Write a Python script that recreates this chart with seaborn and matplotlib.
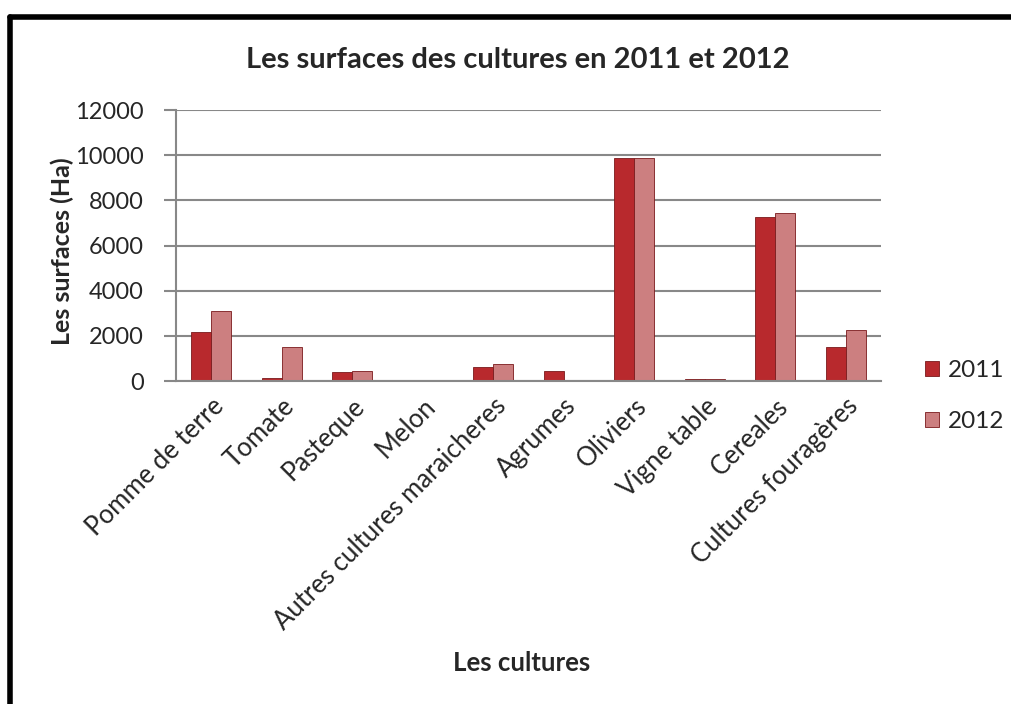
import matplotlib
matplotlib.use("Agg")
import matplotlib.pyplot as plt
from matplotlib.lines import Line2D
import seaborn as sns
import pandas as pd

categories = ["Pomme de terre", "Tomate", "Pasteque", "Melon",
              "Autres cultures maraicheres", "Agrumes", "Oliviers",
              "Vigne table", "Cereales", "Cultures fouragères"]
values_2011 = [2180, 140, 400, 40, 620, 450, 9880, 100, 7250, 1520]
values_2012 = [3100, 1500, 440, 30, 750, 0, 9880, 80, 7420, 2250]
years = ["2011", "2012"]
yticks = [0, 2000, 4000, 6000, 8000, 10000, 12000]

df = pd.DataFrame({
    "culture": categories * 2,
    "surface": values_2011 + values_2012,
    "annee": [years[0]] * len(categories) + [years[1]] * len(categories),
})

sns.set_style("white")
plt.rcParams["font.family"] = ["Lato", "DejaVu Sans"]

fig = plt.figure(figsize=(10.11, 7.04), dpi=100)
ax = fig.add_axes([0.1741, 0.4588, 0.6973, 0.3849])

palette = {"2011": "#B8292D", "2012": "#CC7F80"}
sns.barplot(data=df, x="culture", y="surface", hue="annee", order=categories,
            hue_order=years, palette=palette, width=0.57, gap=0, ax=ax,
            saturation=1, edgecolor="#7a1a1c", linewidth=0.6, legend=False)

ax.set_ylim(0, 12000)
ax.set_yticks(yticks)
ax.set_yticklabels([str(v) for v in yticks], fontsize=17)
ax.set_xticks(range(len(categories)))
ax.set_xticklabels(categories, rotation=45, ha="right", rotation_mode="anchor",
                   fontsize=18.5)
ax.tick_params(axis="x", length=0, pad=9)
ax.tick_params(axis="y", length=9, width=1.5, color="#888888", pad=14, left=True)
ax.yaxis.grid(True, color="#888888", linewidth=1.5)
ax.set_axisbelow(True)
for s in ["top", "right"]:
    ax.spines[s].set_visible(False)
for s in ["left", "bottom"]:
    ax.spines[s].set_color("#888888")
    ax.spines[s].set_linewidth(1.5)

ax.set_xlabel("Les cultures", fontsize=18.5, fontweight="bold")
ax.xaxis.set_label_coords(0.49, -1.04)
ax.xaxis.label.set_va("center")
ax.set_ylabel("Les surfaces (Ha)", fontsize=18, fontweight="bold")
ax.yaxis.set_label_coords(-0.162, 0.48)
ax.yaxis.label.set_va("center")

fig.text(0.512, 1 - 60 / 704, "Les surfaces des cultures en 2011 et 2012",
         ha="center", va="center", fontsize=21, fontweight="bold")

handles = [plt.Rectangle((0, 0), 1, 1, facecolor=palette[y], edgecolor="#7a1a1c",
                         linewidth=0.6) for y in years]
fig.legend(handles, years, loc="center left", bbox_to_anchor=(0.893, 1 - 396 / 704),
           frameon=False, fontsize=17.5, handlelength=0.6, handleheight=0.6,
           handletextpad=0.35, labelspacing=1.25)

# outer frame (top and left visible)
fig.add_artist(Line2D([10 / 1011, 1.0], [1 - 16.5 / 704, 1 - 16.5 / 704],
                      color="black", linewidth=4, transform=fig.transFigure))
fig.add_artist(Line2D([10 / 1011, 10 / 1011], [0.0, 1 - 16.5 / 704],
                      color="black", linewidth=4, transform=fig.transFigure))

fig.savefig("out.png", dpi=100, facecolor="white")
